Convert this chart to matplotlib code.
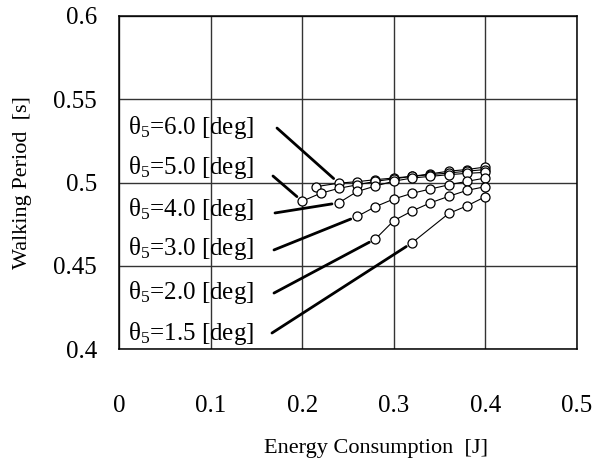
import matplotlib
matplotlib.use("Agg")
import matplotlib.pyplot as plt

plt.rcParams['font.family'] = ['Liberation Serif', 'DejaVu Serif']
plt.rcParams['mathtext.fontset'] = 'custom'
plt.rcParams['mathtext.rm'] = 'Liberation Serif'
plt.rcParams['mathtext.it'] = 'Liberation Serif:italic'

# data (energy [J], walking period [s]) per theta5 setting
theta_labels = ["6.0", "5.0", "4.0", "3.0", "2.0", "1.5"]
s60_x = [0.215, 0.24, 0.26, 0.28, 0.30, 0.32, 0.34, 0.36, 0.38, 0.40]
s60_y = [0.4975, 0.4996, 0.5005, 0.5017, 0.5027, 0.5037, 0.5052, 0.5068, 0.5078, 0.5093]
s50_x = [0.20, 0.22, 0.24, 0.26, 0.28, 0.30, 0.32, 0.34, 0.36, 0.38, 0.40]
s50_y = [0.4888, 0.4935, 0.4965, 0.4986, 0.5007, 0.5022, 0.5037, 0.5047, 0.5057, 0.5068, 0.5078]
s40_x = [0.24, 0.26, 0.28, 0.30, 0.32, 0.34, 0.36, 0.38, 0.40]
s40_y = [0.4878, 0.4946, 0.4979, 0.5008, 0.5027, 0.5037, 0.5047, 0.5055, 0.5061]
s30_x = [0.26, 0.28, 0.30, 0.32, 0.34, 0.36, 0.38, 0.40]
s30_y = [0.4796, 0.4855, 0.4901, 0.4935, 0.4961, 0.4986, 0.5007, 0.5027]
s20_x = [0.28, 0.30, 0.32, 0.34, 0.36, 0.38, 0.40]
s20_y = [0.4661, 0.4771, 0.4829, 0.4878, 0.4917, 0.4953, 0.4975]
s15_x = [0.32, 0.36, 0.38, 0.40]
s15_y = [0.4638, 0.4814, 0.4860, 0.4915]

x_ticks = [0, 0.1, 0.2, 0.3, 0.4, 0.5]
x_ticklabels = ["0", "0.1", "0.2", "0.3", "0.4", "0.5"]
y_ticks = [0.4, 0.45, 0.5, 0.55, 0.6]
y_ticklabels = ["0.4", "0.45", "0.5", "0.55", "0.6"]

series = [(s60_x, s60_y), (s50_x, s50_y), (s40_x, s40_y),
          (s30_x, s30_y), (s20_x, s20_y), (s15_x, s15_y)]
# which point each leader line points to
leader_idx = [1, 0, 0, 0, 0, 0]
label_y = [0.5333, 0.5093, 0.4835, 0.4601, 0.4342, 0.4096]
leader_start = [(0.1725, 0.5327), (0.1681, 0.5039), (0.1703, 0.4817),
                (0.1692, 0.4595), (0.1692, 0.4336), (0.1670, 0.4096)]

fig = plt.figure(figsize=(6.01, 4.66), dpi=100)
ax = fig.add_axes([119/601, 1-349/466, 458/601, 333/466])

ax.set_xlim(0, 0.5)
ax.set_ylim(0.4, 0.6)
ax.set_xticks(x_ticks)
ax.set_xticklabels(x_ticklabels)
ax.set_yticks(y_ticks)
ax.set_yticklabels(y_ticklabels)
ax.tick_params(axis='both', length=0, labelsize=18)
ax.tick_params(axis='x', pad=33)
ax.tick_params(axis='y', pad=16)
ax.grid(True, color='#333333', lw=1.0)
ax.set_axisbelow(True)
for sp in ax.spines.values():
    sp.set_color('black')
    sp.set_linewidth(1.1)

for (xs, ys) in series:
    ax.plot(xs, ys, color='black', lw=0.8, marker='o', ms=6.5,
            mfc='white', mec='black', mew=0.9, zorder=3)

for lab, ly, (sx, sy), (xs, ys), i in zip(theta_labels, label_y, leader_start,
                                          series, leader_idx):
    ax.text(0.0098, ly, "θ$_{\\mathit{5}}$=" + lab + " [deg]", fontsize=18,
            va='center', ha='left', zorder=4)
    ax.annotate("", xy=(xs[i], ys[i]), xytext=(sx, sy),
                arrowprops=dict(arrowstyle='-', lw=2.0, color='black',
                                shrinkA=0, shrinkB=5), zorder=4)

ax.set_xlabel("Energy Consumption  [J]", fontsize=16)
ax.set_ylabel("Walking Period  [s]", fontsize=16)
ax.xaxis.set_label_coords(0.561, -0.27)
ax.yaxis.set_label_coords(-0.19, 0.50)

fig.savefig("out.png", dpi=100)
